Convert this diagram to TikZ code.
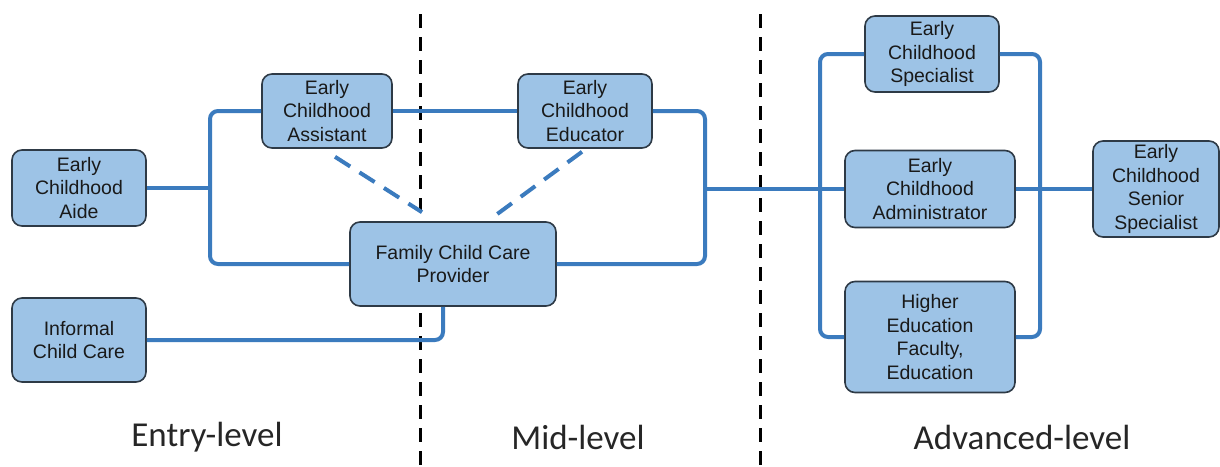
\documentclass[tikz,border=0pt]{standalone}
\usepackage{fontspec}
\setmainfont{Liberation Sans}
\newfontfamily\levelFont{Carlito}
\usepackage{xcolor}
\definecolor{boxLine}{HTML}{2E3A46}
\definecolor{boxFill}{HTML}{9DC3E6}
\definecolor{pathBlue}{HTML}{3B7BBE}
\usepackage{tikz}
\usetikzlibrary{positioning,calc}
\tikzset{%
  careerBox/.style={%
    rectangle,
    rounded corners=10pt,
    draw=boxLine,
    line width=1.6pt,
    fill=boxFill,
    align=center,
    inner sep=1pt,
    text=black!90,
    font=\fontsize{19.5}{23.5}\selectfont
  },
  pathLine/.style={%
    line width=4pt,
    color=pathBlue,
    rounded corners=8pt
  },
  linkDash/.style={%
    line width=4pt,
    color=pathBlue,
    dash pattern=on 18pt off 11pt
  },
  levelDivider/.style={%
    line width=3pt,
    color=black,
    dash pattern=on 14pt off 9pt
  },
  levelLabel/.style={%
    font=\levelFont\fontsize{35}{38}\selectfont,
    text=black!85
  }
}

\begin{document}
\begin{tikzpicture}[x=1pt,y=-1pt]
  \useasboundingbox (0,0) rectangle (1220,466);

  % level dividers
  \coordinate (divA top) at (420,14);
  \coordinate (divA bot) at (420,466);
  \coordinate (divB top) at (760,14);
  \coordinate (divB bot) at (760,466);
  \draw[levelDivider] (divA top) -- (divA bot);
  \draw[levelDivider] (divB top) -- (divB bot);

  % junctions
  \coordinate (leftJoin) at (210,188);
  \coordinate (midJoin) at (705,189);
  \coordinate (advIn) at (820,189);
  \coordinate (advOut) at (1040,189);

  % boxes
  \path (79,188) node[careerBox, minimum width=134pt, minimum height=76pt] (aide) {Early\\Childhood\\Aide};
  \path (79,340) node[careerBox, minimum width=134pt, minimum height=84pt] (informal) {Informal\\Child Care};
  \path (327,111) node[careerBox, minimum width=130pt, minimum height=74pt] (assistant) {Early\\Childhood\\Assistant};
  \path (585,111) node[careerBox, minimum width=134pt, minimum height=74pt] (educator) {Early\\Childhood\\Educator};
  \path (453,264) node[careerBox, minimum width=206pt, minimum height=84pt] (provider) {Family Child Care\\Provider};
  \path (932,54) node[careerBox, minimum width=134pt, minimum height=76pt] (specialist) {Early\\Childhood\\Specialist};
  \path (930,189) node[careerBox, minimum width=170pt, minimum height=77pt] (admin) {Early\\Childhood\\Administrator};
  \path (930,337) node[careerBox, minimum width=170pt, minimum height=111pt] (faculty) {Higher\\Education\\Faculty,\\Education};
  \path (1156,189) node[careerBox, minimum width=126pt, minimum height=96pt] (senior) {Early\\Childhood\\Senior\\Specialist};

  % connectors
  \draw[pathLine] (aide.east) -- (leftJoin);
  \draw[pathLine] (assistant.west) -| (leftJoin) |- (provider.west);
  \draw[pathLine] (assistant.east) -- (educator.west);
  \draw[pathLine] (educator.east) -| (midJoin) |- (provider.east);
  \draw[pathLine] (midJoin) -- (admin.west);
  \draw[pathLine] (informal.east) -| ([xshift=-10pt]provider.south);
  \draw[pathLine] (specialist.west) -| (advIn) |- (faculty.west);
  \draw[pathLine] (specialist.east) -| (advOut) |- (faculty.east);
  \draw[pathLine] (admin.east) -- (senior.west);

  \draw[linkDash] ($(assistant.south)+(8,8)$) -- ($(provider.north)+(-31,-9)$);
  \draw[linkDash] ($(educator.south)+(-3,3)$) -- ($(provider.north)+(44,-7)$);

  % level names
  \node[levelLabel] (entryLbl) at (207,437) {Entry-level};
  \node[levelLabel] (midLbl) at (578,437) {Mid-level};
  \node[levelLabel] (advLbl) at (1022,437) {Advanced-level};
\end{tikzpicture}
\end{document}
